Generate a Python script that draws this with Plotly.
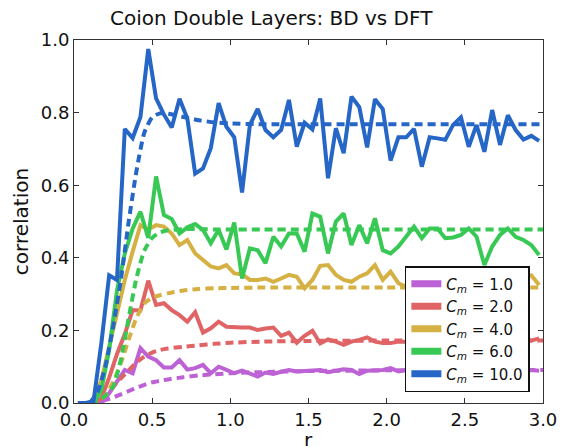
import numpy as np
import plotly.graph_objects as go

# ---------------- data ----------------
r_bd = [round(0.025 + 0.05 * k, 3) for k in range(60)]

bd_cm1 = [0, 0, 0, 0.0, 0.027, 0.059, 0.091, 0.082, 0.151, 0.128,
          0.118, 0.098, 0.098, 0.118, 0.092, 0.096, 0.105, 0.082, 0.100, 0.091,
          0.082, 0.089, 0.082, 0.073, 0.084, 0.080, 0.086, 0.091, 0.087, 0.089,
          0.090, 0.091, 0.085, 0.089, 0.093, 0.091, 0.080, 0.089, 0.091, 0.091,
          0.096, 0.087, 0.091, 0.089, 0.090, 0.088, 0.092, 0.089, 0.091, 0.088,
          0.090, 0.092, 0.089, 0.090, 0.088, 0.091, 0.089, 0.090, 0.091, 0.089]

bd_cm2 = [0, 0, 0, 0.013, 0.070, 0.135, 0.190, 0.256, 0.255, 0.337,
          0.270, 0.275, 0.256, 0.242, 0.224, 0.250, 0.194, 0.206, 0.224, 0.210,
          0.208, 0.208, 0.208, 0.201, 0.205, 0.208, 0.185, 0.194, 0.166, 0.185,
          0.199, 0.164, 0.175, 0.169, 0.160, 0.169, 0.174, 0.181, 0.169, 0.165,
          0.165, 0.169, 0.169, 0.172, 0.168, 0.175, 0.170, 0.166, 0.173, 0.170,
          0.168, 0.174, 0.169, 0.171, 0.167, 0.172, 0.170, 0.168, 0.172, 0.178]

bd_cm4 = [0, 0, 0, 0.063, 0.155, 0.247, 0.339, 0.417, 0.490, 0.478,
          0.490, 0.486, 0.467, 0.435, 0.449, 0.412, 0.394, 0.376, 0.371, 0.380,
          0.357, 0.355, 0.339, 0.339, 0.343, 0.334, 0.343, 0.353, 0.348, 0.316,
          0.339, 0.378, 0.380, 0.353, 0.339, 0.334, 0.348, 0.357, 0.380, 0.339,
          0.362, 0.330, 0.320, 0.335, 0.340, 0.345, 0.338, 0.350, 0.362, 0.345,
          0.340, 0.355, 0.362, 0.345, 0.340, 0.348, 0.342, 0.350, 0.352, 0.325]

bd_cm6 = [0, 0, 0, 0.036, 0.146, 0.310, 0.412, 0.480, 0.527, 0.455,
          0.624, 0.518, 0.507, 0.467, 0.484, 0.493, 0.477, 0.440, 0.477, 0.423,
          0.497, 0.343, 0.426, 0.421, 0.385, 0.458, 0.431, 0.467, 0.467, 0.417,
          0.522, 0.513, 0.412, 0.500, 0.522, 0.435, 0.490, 0.440, 0.509, 0.421,
          0.412, 0.431, 0.458, 0.486, 0.454, 0.481, 0.481, 0.454, 0.456, 0.463,
          0.481, 0.458, 0.380, 0.431, 0.463, 0.481, 0.458, 0.449, 0.435, 0.408]

bd_cm10 = [0, 0, 0.005, 0.165, 0.352, 0.339, 0.755, 0.730, 0.788, 0.975,
           0.839, 0.795, 0.759, 0.838, 0.784, 0.632, 0.646, 0.702, 0.826, 0.761,
           0.732, 0.580, 0.766, 0.810, 0.752, 0.732, 0.752, 0.835, 0.706, 0.772,
           0.754, 0.839, 0.619, 0.757, 0.688, 0.844, 0.815, 0.704, 0.837, 0.810,
           0.668, 0.732, 0.732, 0.755, 0.651, 0.732, 0.729, 0.725, 0.766, 0.787,
           0.706, 0.766, 0.692, 0.807, 0.711, 0.793, 0.752, 0.726, 0.736, 0.722]

r_dft = [0.10, 0.15, 0.20, 0.25, 0.30, 0.35, 0.40, 0.45, 0.50, 0.55,
         0.60, 0.70, 0.80, 0.90, 1.00, 1.20, 1.50, 2.00, 2.50, 3.00]

dft_cm1 = [0, 0.002, 0.008, 0.015, 0.024, 0.033, 0.042, 0.050, 0.057, 0.061,
           0.065, 0.071, 0.076, 0.079, 0.082, 0.085, 0.088, 0.090, 0.091, 0.091]
dft_cm2 = [0, 0.005, 0.020, 0.045, 0.068, 0.090, 0.112, 0.128, 0.139, 0.146,
           0.150, 0.155, 0.159, 0.163, 0.166, 0.169, 0.171, 0.172, 0.172, 0.172]
dft_cm4 = [0, 0.005, 0.020, 0.058, 0.110, 0.175, 0.235, 0.274, 0.290, 0.297,
           0.302, 0.310, 0.314, 0.316, 0.317, 0.318, 0.318, 0.318, 0.318, 0.318]
dft_cm6 = [0, 0.005, 0.020, 0.045, 0.120, 0.235, 0.345, 0.420, 0.455, 0.470,
           0.476, 0.479, 0.479, 0.478, 0.478, 0.478, 0.478, 0.478, 0.478, 0.478]
dft_cm10 = [0, 0.030, 0.100, 0.210, 0.340, 0.500, 0.640, 0.745, 0.787, 0.798,
            0.797, 0.788, 0.779, 0.773, 0.770, 0.768, 0.768, 0.768, 0.768, 0.768]

labels = ["1.0", "2.0", "4.0", "6.0", "10.0"]
colors = ["#BD62D5", "#E06366", "#D5B043", "#38C955", "#2566C7"]
bd_series = [bd_cm1, bd_cm2, bd_cm4, bd_cm6, bd_cm10]
dft_series = [dft_cm1, dft_cm2, dft_cm4, dft_cm6, dft_cm10]

# ---------------- figure ----------------
fig = go.Figure()
for lab, col, bd, dft in zip(labels, colors, bd_series, dft_series):
    fig.add_trace(go.Scatter(x=r_bd, y=bd, mode="lines",
                             line=dict(color=col, width=4), showlegend=False,
                             hoverinfo="skip"))
    fig.add_trace(go.Scatter(x=r_dft, y=dft, mode="lines",
                             line=dict(color=col, width=4, dash="8px,5px",
                                       shape="spline", smoothing=0.6),
                             showlegend=False, hoverinfo="skip"))

for lab, col in zip(labels, colors):
    fig.add_trace(go.Scatter(x=[None], y=[None], mode="lines",
                             line=dict(color=col, width=7),
                             name="<i>C<sub>m</sub></i> = " + lab))

font_family = "DejaVu Sans"
axis_common = dict(showgrid=False, zeroline=False, showline=True,
                   linecolor="#333333", linewidth=1, mirror="ticks",
                   ticks="inside", ticklen=5, tickwidth=1, tickcolor="#333333",
                   automargin=False,
                   tickfont=dict(family=font_family, size=18, color="#111111"))

fig.update_layout(
    width=565, height=446,
    margin=dict(l=74, r=22, t=40, b=43),
    paper_bgcolor="white", plot_bgcolor="white",
    title=dict(text="Coion Double Layers: BD vs DFT", x=0.48, xanchor="center",
               y=0.96, yanchor="middle",
               font=dict(family=font_family, size=20, color="#111111")),
    xaxis=dict(range=[0, 3], tickvals=[0, 0.5, 1, 1.5, 2, 2.5, 3],
               ticktext=["0.0", "0.5", "1.0", "1.5", "2.0", "2.5", "3.0"],
               **axis_common),
    yaxis=dict(range=[0, 1], tickvals=[0, 0.2, 0.4, 0.6, 0.8, 1.0],
               ticktext=["0.0", "0.2", "0.4", "0.6", "0.8", "1.0"],
               title=dict(text="correlation", standoff=6,
                          font=dict(family=font_family, size=20, color="#111111")),
               **axis_common),
    annotations=[dict(text="r", xref="paper", yref="paper", x=0.5, y=-0.102,
                      xanchor="center", yanchor="middle", showarrow=False,
                      font=dict(family=font_family, size=20, color="#111111"))],
    legend=dict(x=0.972, y=0.03, xanchor="right", yanchor="bottom",
                bgcolor="white", bordercolor="#111111", borderwidth=1.5,
                font=dict(family=font_family, size=15, color="#111111"),
                tracegroupgap=0, itemwidth=30),
    showlegend=True,
)

fig.write_html("out.html", config={"displayModeBar": False},
               post_script="document.body.style.margin='0';document.body.style.overflow='hidden';")
